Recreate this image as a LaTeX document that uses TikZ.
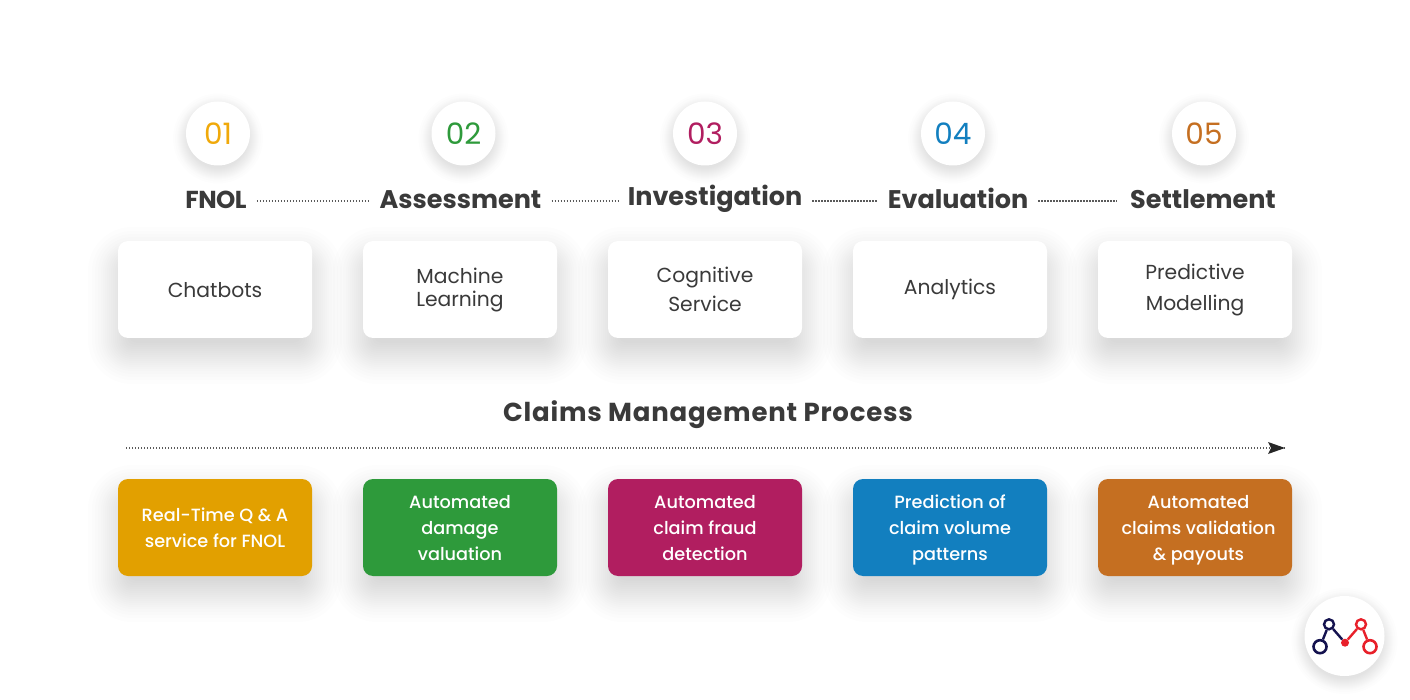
\documentclass[tikz,border=0pt]{standalone}
\usepackage{fontspec}
\setmainfont{Poppins}
\newfontfamily\pmed{Poppins Medium}
\usetikzlibrary{arrows.meta}
\definecolor{ink}{HTML}{3A3A3A}
\definecolor{cA}{HTML}{E2A000}
\definecolor{cB}{HTML}{2E9A3B}
\definecolor{cC}{HTML}{B11E60}
\definecolor{cD}{HTML}{127FBF}
\definecolor{cE}{HTML}{C56F21}
\definecolor{numA}{HTML}{F0A90A}
\definecolor{navy}{HTML}{14124F}
\definecolor{logored}{HTML}{E8202A}
\definecolor{dotc}{HTML}{5A5A5A}
\newcommand{\softshadow}[4]{%
  \foreach \e in {30,26,23,20,17,15,13,11,9,7,5,3,1,-1,-3,-5,-7,-9,-11}{
    \pgfmathsetmacro{\rc}{max(8,14+\e)}
    \fill[black,opacity=0.0062,rounded corners=\rc pt]
      (#1-#3/2-\e,#2-#4/2-\e+16) rectangle (#1+#3/2+\e,#2+#4/2+\e+16);
  }}
\newcommand{\roundshadow}[3]{%
  \foreach \e in {13,11,9,8,7,6,5,4,3,2,1,0,-1,-2,-4,-6}{
    \fill[black,opacity=0.0095] (#1,#2+5) circle ({#3+\e});
  }}
\tikzset{
  x=1pt,y=-1pt,
  numdisc/.style={circle,fill=white,minimum size=64pt,inner sep=0pt,font=\fontsize{29.5}{31}\selectfont},
  heading/.style={text=ink,font=\fontsize{25.5}{27}\selectfont\bfseries,inner xsep=10pt,inner ysep=0pt,text height=20pt,text depth=4.5pt},
  boxbase/.style={rounded corners=10pt,minimum width=194pt,minimum height=97pt,inner sep=0pt,align=center,text height=#1,text depth=97pt-#1},
  whitebox/.style={boxbase=#1,fill=white,text=ink,font=\fontsize{20.3}{23}\selectfont},
  colorbox/.style={boxbase=#1,text=white,font=\pmed\fontsize{17.7}{26}\selectfont},
  dotline/.style={dotc,line width=1.2pt,dash pattern=on 1.4pt off 1.6pt},
  logoring/.style={circle,draw,fill=white,inner sep=0pt},
}
\begin{document}
\begin{tikzpicture}
\useasboundingbox[fill=white] (0,0) rectangle (1410,700);
% shadows
\foreach \cx in {215,460,705,950,1195}{
  \softshadow{\cx}{289.5}{194}{97}
  \softshadow{\cx}{527.5}{194}{97}
}
\roundshadow{218}{133.5}{32}
\roundshadow{463.5}{133.5}{32}
\roundshadow{705}{133.5}{32}
\roundshadow{953}{133.5}{32}
\roundshadow{1204}{133.5}{32}
\roundshadow{1344.5}{636}{40}
% number discs
\node[numdisc,text=numA] (n1) at (218,133.5) {01};
\node[numdisc,text=cB] (n2) at (463.5,133.5) {02};
\node[numdisc,text=cC] (n3) at (705,133.5) {03};
\node[numdisc,text=cD] (n4) at (953,133.5) {04};
\node[numdisc,text=cE] (n5) at (1204,133.5) {05};
% headings
\node[heading,font=\fontsize{24.5}{27}\selectfont\bfseries\addfontfeature{LetterSpace=-2}] (h1) at (216,201) {FNOL};
\node[heading] (h2) at (460.5,201) {Assessment};
\node[heading] (h3) at (715,198) {Investigation};
\node[heading] (h4) at (958,201) {Evaluation};
\node[heading,inner xsep=13pt] (h5) at (1203,201) {Settlement};
% connectors
\draw[dotline] (h1.east) -- (h2.west);
\draw[dotline] (h2.east) -- (h3.west |- h2.east);
\draw[dotline] (h4.west -| h3.east) -- (h4.west);
\draw[dotline] (h4.east) -- (h5.west);
% white boxes
\node[whitebox=56.5pt] (w1) at (215,289.5) {Chatbots};
\node[whitebox=66pt] (w2) at (460,289.5) {Machine\\Learning};
\node[whitebox=71pt,font=\fontsize{20.3}{29}\selectfont] (w3) at (705,289.5) {Cognitive\\Service};
\node[whitebox=53.5pt] (w4) at (950,289.5) {Analytics};
\node[whitebox=70pt,font=\fontsize{20.3}{31}\selectfont] (w5) at (1195,289.5) {Predictive\\Modelling};
% title and arrow
\node[text=ink,font=\fontsize{26}{28}\selectfont\bfseries\addfontfeature{LetterSpace=3},inner sep=0pt] (title) at (708,415) {Claims Management Process};
\coordinate (arrowstart) at (126,448);
\coordinate (arrowend) at (1285,448);
\draw[dotline] (arrowstart) -- (arrowend);
\fill[black!85] (arrowend) -- (1268,442) -- (1271,448) -- (1268,454) -- cycle;
% colour boxes
\node[colorbox=68.5pt,fill=cA] (c1) at (215,527.5) {Real-Time Q \& A\\service for FNOL};
\node[colorbox=81.5pt,fill=cB] (c2) at (460,527.5) {Automated\\damage\\valuation};
\node[colorbox=81.5pt,fill=cC] (c3) at (705,527.5) {Automated\\claim fraud\\detection};
\node[colorbox=81.5pt,fill=cD] (c4) at (950,527.5) {Prediction of\\claim volume\\patterns};
\node[colorbox=81.5pt,fill=cE] (c5) at (1195,527.5) {\hspace*{7pt}Automated\\\hspace*{7pt}claims validation\\\hspace*{7pt}\& payouts};
% logo
\node[circle,fill=white,minimum size=80pt,inner sep=0pt] (logo) at (1344.5,636) {};
\node[logoring,draw=navy,line width=2.6pt,minimum size=13pt] (la) at (1320,646.7) {};
\node[logoring,draw=navy,line width=2.4pt,minimum size=10pt] (lb) at (1329,624.3) {};
\node[logoring,draw=logored,line width=2.4pt,minimum size=10pt] (lc) at (1361,624.3) {};
\node[logoring,draw=logored,line width=2.6pt,minimum size=13pt] (ld) at (1370,646.7) {};
\node[circle,fill=logored,minimum size=8pt,inner sep=0pt] (le) at (1345,642.7) {};
\draw[navy,line width=2.4pt] (la) -- (lb);
\draw[navy,line width=2.4pt] (lb) -- (le);
\draw[logored,line width=2.4pt] (lc) -- (le);
\draw[logored,line width=2.4pt] (lc) -- (ld);
\end{tikzpicture}
\end{document}
